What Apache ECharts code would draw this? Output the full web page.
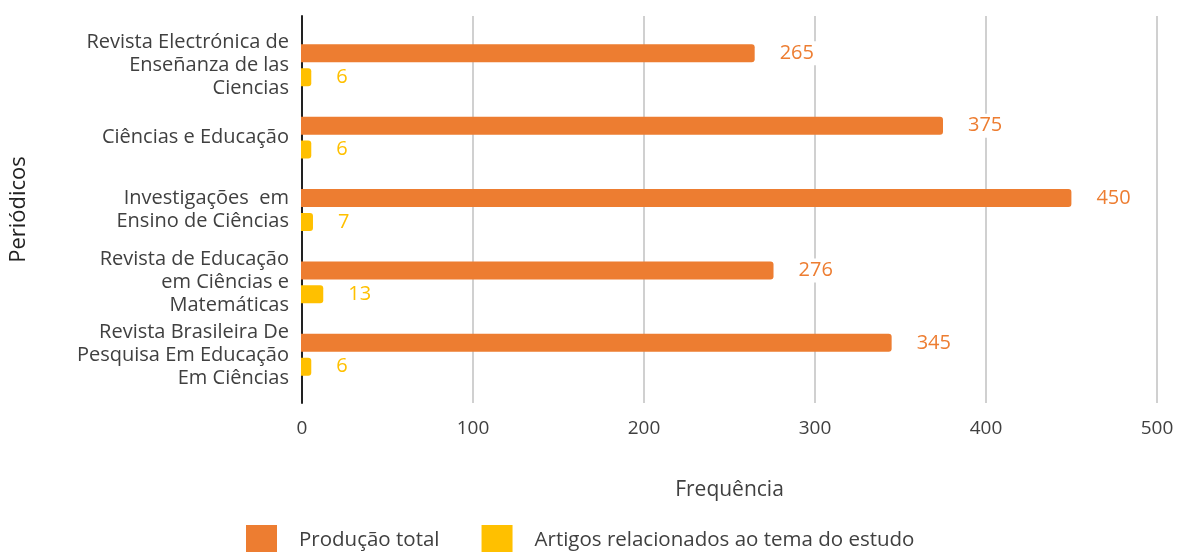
<!DOCTYPE html>
<html>
<head>
<meta charset="utf-8">
<script src="https://cdn.jsdelivr.net/npm/echarts@6/dist/echarts.min.js"></script>
<style>
  html, body { margin: 0; padding: 0; background: #fff; }
  #chart { width: 1177px; height: 552px; }
</style>
</head>
<body>
<div id="chart"></div>
<script>
// dados do gráfico
var categorias = [
    'Revista Electrónica de\nEnseñanza de las\nCiencias',
    'Ciências e Educação',
    'Investigações  em\nEnsino de Ciências',
    'Revista de Educação\nem Ciências e\nMatemáticas',
    'Revista Brasileira De\nPesquisa Em Educação\nEm Ciências'
];
var producaoTotal = [265, 375, 450, 276, 345];
var artigosRelacionados = [6, 6, 7, 13, 6];
var nomesSeries = ['Produção total', 'Artigos relacionados ao tema do estudo'];

var FONT = 'Open Sans';
var TXT = '#404040';

var myChart = echarts.init(document.getElementById('chart'));

function labelSerie(cor) {
    return {
        show: true,
        position: 'right',
        distance: 22,
        color: cor,
        fontFamily: FONT,
        fontSize: 20,
        backgroundColor: '#fff',
        padding: [2, 3]
    };
}

var option = {
    animation: false,
    grid: [
        // grid de fundo: linhas de grade, eixo e rótulos
        { left: 301, right: 20, top: 16, bottom: 149 },
        // grid das barras
        { left: 301, right: 20, top: 29, height: 362 }
    ],
    xAxis: [{
        gridIndex: 0,
        type: 'value',
        min: 0,
        max: 500,
        interval: 100,
        axisLine: { show: false },
        axisTick: { show: false },
        splitLine: { lineStyle: { color: '#d0d0d0', width: 2 } },
        axisLabel: { color: TXT, fontFamily: FONT, fontSize: 19, margin: 16 },
        name: 'Frequência',
        nameLocation: 'middle',
        nameGap: 77,
        nameTextStyle: { color: TXT, fontFamily: FONT, fontSize: 21 }
    }, {
        gridIndex: 1,
        type: 'value',
        min: 0,
        max: 500,
        show: false
    }],
    yAxis: [{
        gridIndex: 0,
        type: 'category',
        data: categorias,
        axisLine: { lineStyle: { color: '#222', width: 2 } },
        axisTick: { show: false },
        axisLabel: { show: false },
        name: 'Periódicos',
        nameLocation: 'middle',
        nameRotate: 90,
        nameGap: 272,
        nameTextStyle: { color: '#222', fontFamily: FONT, fontSize: 22 }
    }, {
        gridIndex: 1,
        type: 'category',
        inverse: true,
        data: categorias,
        axisLine: { show: false },
        axisTick: { show: false },
        axisLabel: {
            color: TXT,
            fontFamily: FONT,
            fontSize: 20,
            lineHeight: 23,
            margin: 12,
            align: 'right'
        }
    }],
    legend: {
        data: nomesSeries,
        left: 246,
        top: 525,
        padding: 0,
        itemWidth: 31,
        itemHeight: 30,
        itemGap: 42,
        icon: 'rect',
        textStyle: { color: TXT, fontFamily: FONT, fontSize: 20.5, padding: [0, 0, 0, 17] }
    },
    series: [{
        name: nomesSeries[0],
        type: 'bar',
        xAxisIndex: 1,
        yAxisIndex: 1,
        data: producaoTotal,
        barWidth: 18,
        barGap: '33%',
        itemStyle: { color: '#ED7D31', borderRadius: [0, 3, 3, 0] },
        label: labelSerie('#ED7D31')
    }, {
        name: nomesSeries[1],
        type: 'bar',
        xAxisIndex: 1,
        yAxisIndex: 1,
        data: artigosRelacionados,
        barWidth: 18,
        itemStyle: { color: '#FFC000', borderRadius: [0, 3, 3, 0] },
        label: labelSerie('#FFC000')
    }]
};

myChart.setOption(option);
</script>
</body>
</html>
